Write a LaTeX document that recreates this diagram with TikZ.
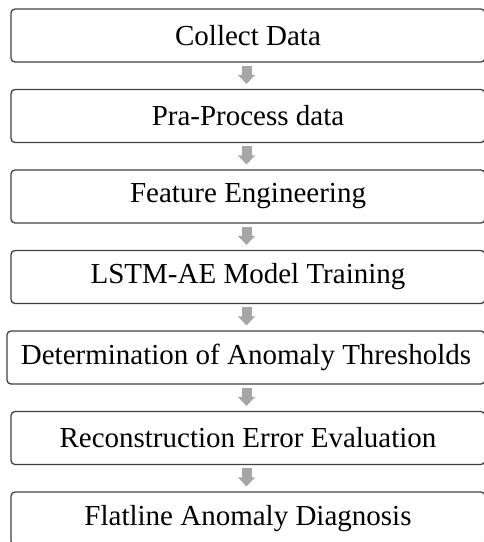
\documentclass[tikz,border=0pt]{standalone}
\usepackage{fontspec}
\setmainfont{Liberation Serif}
\usetikzlibrary{arrows.meta,positioning}
\definecolor{boxline}{RGB}{64,64,64}
\definecolor{arrowgray}{RGB}{166,166,166}
\tikzset{
  stage/.style={draw=boxline, line width=1.3pt, rounded corners=4pt,
    minimum width=474pt, minimum height=53pt, inner sep=0pt,
    font=\fontsize{29}{34}\selectfont},
  flowarrow/.style={draw=arrowgray, line width=10pt,
    -{Triangle[width=17pt,length=9pt]}, shorten <=3pt, shorten >=5pt}
}
\begin{document}
\begin{tikzpicture}[x=1pt,y=-1pt]
    \useasboundingbox (0,0) rectangle (484,542);
    \clip (0,0) rectangle (484,542);
    \pgfmathsetmacro{\cx}{248}
    \pgfmathsetmacro{\dy}{80.5}
    % stages of the pipeline
    \node[stage] (collect) at (\cx, 35.5) {Collect Data};
    \node[stage] (preproc) at (\cx, 35.5+\dy) {Pra-Process data};
    \node[stage] (feature) at (\cx, 35.5+2*\dy) {Feature Engineering};
    \node[stage] (train) at (\cx, 35.5+3*\dy) {LSTM-AE Model Training};
    \node[stage, minimum width=478pt] (thresh) at (\cx-2, 35.5+4*\dy) {Determination of Anomaly Thresholds};
    \node[stage] (recon) at (\cx, 35.5+5*\dy) {Reconstruction Error Evaluation};
    \node[stage] (diag) at (\cx, 35.5+6*\dy) {Flatline Anomaly Diagnosis};
    % arrows between stages
    \coordinate (axis) at (\cx-1.5, 0);
    \foreach \a/\b in {collect/preproc, preproc/feature, feature/train,
      train/thresh, thresh/recon, recon/diag}
      \draw[flowarrow] (\a.south -| axis) -- (\b.north -| axis);
\end{tikzpicture}
\end{document}
